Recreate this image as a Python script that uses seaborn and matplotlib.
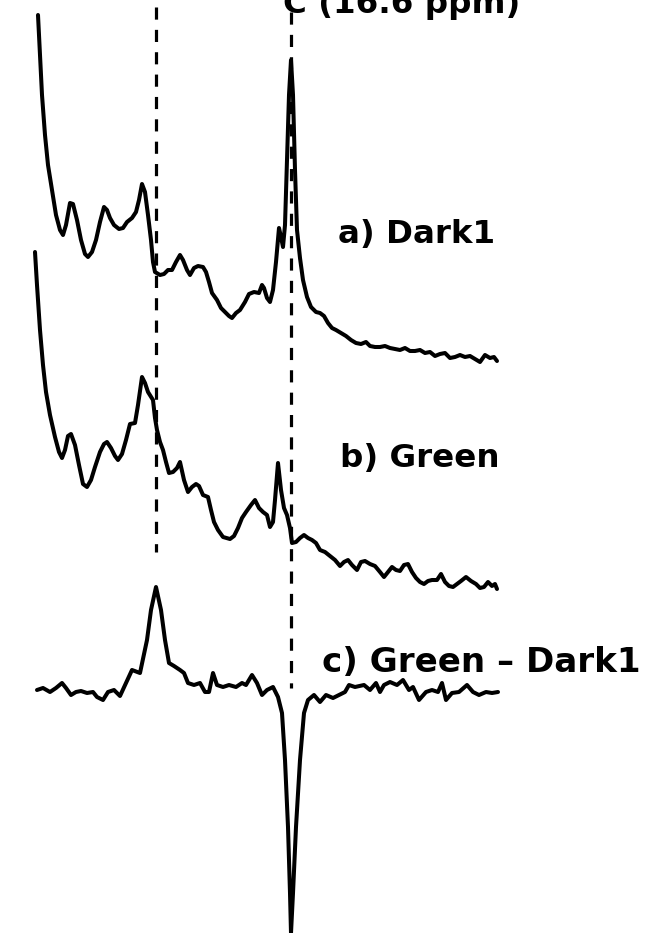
import numpy as np
import pandas as pd
import matplotlib
matplotlib.use("Agg")
import matplotlib.pyplot as plt
import seaborn as sns

# ---- data (traced spectra, horizontal position vs. vertical offset) ----
a_x = [38, 40, 42, 45, 48, 52, 56, 60, 63, 66, 70, 73, 77, 81, 85, 88, 92, 96, 100, 104,
       107, 110, 114, 119, 123, 127, 132, 136, 139, 142, 145, 148, 151, 153, 155, 160, 164,
       168, 172, 176, 180, 183, 187, 190, 194, 198, 203, 206, 209, 212, 217, 221, 225, 229,
       232, 236, 240, 245, 249, 254, 259, 262, 264, 267, 270, 273, 276, 279, 281, 283, 285,
       287, 289, 291, 293, 295, 297, 300, 303, 307, 311, 316, 320, 324, 328, 332, 336, 341,
       346, 351, 356, 361, 366, 370, 375, 380, 385, 390, 395, 400, 405, 410, 415, 420, 425,
       430, 435, 440, 445, 450, 455, 460, 465, 470, 475, 480, 485, 490, 494, 497]
a_y = [15, 55, 95, 135, 165, 190, 215, 230, 235, 225, 203, 204, 220, 240, 254, 257, 252, 240,
       222, 207, 210, 218, 225, 229, 228, 222, 218, 212, 200, 184, 192, 215, 240, 262, 272,
       275, 274, 270, 270, 262, 255, 260, 270, 275, 268, 266, 267, 272, 282, 293, 300, 308,
       312, 316, 318, 313, 310, 302, 294, 292, 293, 285, 288, 298, 302, 290, 262, 228, 237,
       247, 225, 160, 95, 60, 95, 170, 230, 258, 280, 297, 307, 312, 313, 316, 323, 328, 330,
       333, 336, 340, 343, 344, 342, 346, 347, 347, 346, 348, 349, 350, 348, 351, 351, 350,
       353, 352, 356, 354, 353, 358, 357, 355, 357, 356, 359, 362, 355, 358, 357, 361]

b_x = [35, 37, 40, 43, 46, 50, 55, 59, 62, 65, 68, 71, 75, 79, 83, 87, 91, 95, 100, 104, 107,
       111, 115, 118, 122, 126, 130, 135, 138, 142, 145, 148, 153, 155, 157, 160, 163, 166,
       169, 173, 177, 180, 184, 188, 192, 196, 199, 203, 208, 211, 214, 218, 223, 230, 234,
       238, 242, 246, 251, 255, 259, 263, 267, 270, 273, 275, 278, 281, 284, 287, 290, 292,
       296, 300, 304, 308, 312, 316, 320, 325, 330, 335, 340, 344, 348, 352, 357, 361, 365,
       370, 375, 380, 384, 388, 392, 396, 400, 404, 408, 412, 416, 420, 424, 428, 432, 437,
       441, 445, 449, 453, 457, 461, 466, 471, 476, 480, 484, 488, 492, 495, 497]
b_y = [252, 285, 330, 365, 392, 415, 437, 452, 458, 450, 436, 434, 445, 465, 484, 487, 480,
       467, 452, 444, 442, 448, 456, 460, 454, 440, 424, 423, 405, 377, 383, 392, 400, 418,
       430, 442, 450, 462, 473, 472, 468, 462, 480, 492, 487, 484, 486, 495, 497, 510, 522,
       530, 537, 539, 536, 528, 518, 512, 505, 500, 508, 512, 515, 527, 522, 500, 463, 490,
       508, 515, 528, 543, 542, 538, 535, 538, 540, 543, 550, 552, 556, 560, 566, 562, 560,
       565, 570, 562, 561, 564, 566, 572, 577, 572, 567, 570, 571, 565, 564, 572, 578, 582,
       584, 581, 580, 580, 574, 582, 586, 587, 584, 581, 577, 581, 584, 588, 587, 582, 586,
       584, 589]

c_x = [37, 43, 50, 56, 62, 66, 71, 76, 81, 87, 93, 97, 103, 108, 114, 120, 126, 132, 140,
       147, 151, 156, 161, 165, 169, 174, 180, 184, 188, 194, 200, 205, 209, 213, 217, 223,
       229, 236, 242, 246, 252, 257, 262, 267, 273, 278, 282, 285, 288, 290, 291, 293, 296,
       300, 304, 308, 314, 320, 326, 333, 339, 345, 349, 355, 364, 370, 376, 380, 384, 390,
       397, 403, 409, 413, 419, 426, 432, 438, 442, 446, 452, 459, 467, 473, 479, 486, 492,
       498]
c_y = [690, 688, 692, 688, 683, 688, 695, 692, 691, 693, 692, 697, 700, 692, 690, 696, 683,
       670, 673, 640, 610, 587, 610, 640, 663, 666, 670, 673, 683, 685, 683, 692, 692, 673,
       685, 687, 685, 687, 683, 685, 675, 683, 695, 690, 687, 697, 713, 760, 827, 893, 933,
       893, 827, 760, 713, 700, 695, 702, 695, 698, 695, 692, 685, 687, 685, 690, 683, 692,
       685, 682, 685, 680, 690, 687, 700, 692, 690, 692, 683, 700, 693, 692, 685, 692, 695,
       692, 693, 692]

labels = ["a) Dark1", "b) Green", "c) Green \u2013 Dark1"]
label_x = [338, 340, 322]
label_y = [243, 467, 672]
title_text = "C (16.6 ppm)"

# reference (dashed) markers: position, start, end
ref_x = [156, 291]
ref_top = [7, 12]
ref_bottom = [552, 688]

df = pd.concat([
    pd.DataFrame({"x": a_x, "y": a_y, "trace": "a"}),
    pd.DataFrame({"x": b_x, "y": b_y, "trace": "b"}),
    pd.DataFrame({"x": c_x, "y": c_y, "trace": "c"}),
], ignore_index=True)

sns.set_theme(style="white")
plt.rcParams["font.family"] = ["DejaVu Sans"]

fig = plt.figure(figsize=(6.48, 9.33), dpi=100)
ax = fig.add_axes([0, 0, 1, 1])

for t in ["a", "b", "c"]:
    sub = df[df["trace"] == t]
    sns.lineplot(data=sub, x="x", y="y", sort=False, estimator=None, ax=ax,
                 color="black", linewidth=2.9, legend=False,
                 solid_joinstyle="round", solid_capstyle="round")

for xv, y0, y1 in zip(ref_x, ref_top, ref_bottom):
    ax.plot([xv, xv], [y0, y1], color="black", linewidth=2.3,
            linestyle=(0, (3.8, 3.2)), zorder=1)

for txt, tx, ty, fs in zip(labels, label_x, label_y, [23.4, 23.4, 24.6]):
    ax.text(tx, ty, txt, fontsize=fs, fontweight="bold", ha="left", va="baseline",
            color="black")

ax.text(283, 13, title_text, fontsize=23.4, fontweight="bold", ha="left",
        va="baseline", color="black")

ax.set_xlim(0, 648)
ax.set_ylim(933, 0)
ax.axis("off")

fig.savefig("out.png", dpi=100, facecolor="white")
